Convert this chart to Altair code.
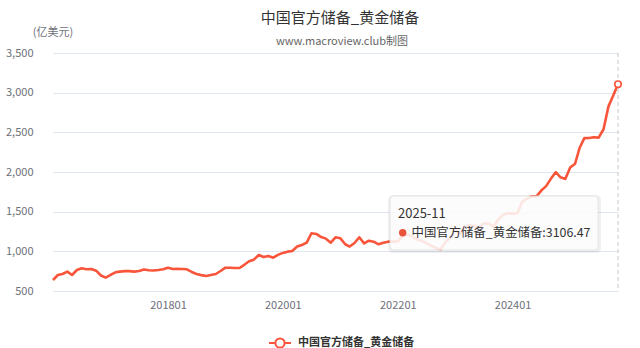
import altair as alt
import pandas as pd

# ---------------- data ----------------
title_text = "中国官方储备_黄金储备"
subtitle_text = "www.macroview.club制图"
unit_text = "(亿美元)"
series_name = "中国官方储备_黄金储备"

start_year, start_month = 2016, 1

values_2016 = [639, 702, 714, 744, 702, 765, 786, 774, 777, 756, 695, 668]
values_2017 = [702, 736, 744, 750, 750, 744, 752, 770, 762, 758, 765, 775]
values_2018 = [794, 777, 780, 778, 774, 740, 715, 700, 690, 702, 714, 752]
values_2019 = [794, 794, 790, 790, 830, 875, 895, 954, 929, 941, 920, 955]
values_2020 = [980, 996, 1004, 1060, 1080, 1109, 1228, 1219, 1180, 1160, 1109, 1177]
values_2021 = [1164, 1089, 1060, 1105, 1177, 1100, 1134, 1122, 1089, 1109, 1122, 1122]
values_2022 = [1126, 1196, 1213, 1188, 1151, 1132, 1106, 1072, 1040, 1027, 1117, 1172]
values_2023 = [1271, 1212, 1309, 1329, 1320, 1304, 1350, 1351, 1309, 1399, 1459, 1482]
values_2024 = [1472, 1484, 1622, 1664, 1694, 1693, 1766, 1822, 1917, 1998, 1933, 1913]
values_2025 = [2056, 2104, 2299, 2427, 2429, 2439, 2433, 2539, 2824, 2960, 3106.47]

values = (values_2016 + values_2017 + values_2018 + values_2019 + values_2020
          + values_2021 + values_2022 + values_2023 + values_2024 + values_2025)

months = []
y, m = start_year, start_month
for _ in values:
    months.append(f"{y}-{m:02d}")
    m += 1
    if m > 12:
        m = 1
        y += 1

x_tick_labels = ["201801", "202001", "202201", "202401"]
y_ticks = [500, 1000, 1500, 2000, 2500, 3000, 3500]

# ---------------- style ----------------
FONT = "Noto Sans CJK SC"
LINE_COLOR = "#f9553a"
GRID = "#e0e6f1"
W, H = 565, 238

df = pd.DataFrame({
    "date": [f"{mm}-01T00:00:00" for mm in months],
    "month": months,
    "value": values,
    "series": series_name,
})
last = df.tail(1)


def dt(ym):
    return alt.DateTime(year=int(ym[:4]), month=int(ym[-2:]), date=1)


x_enc = alt.X(
    "date:T",
    scale=alt.Scale(domain=[dt(months[0]), dt(months[-1])], nice=False),
    axis=alt.Axis(
        values=[dt(s) for s in x_tick_labels],
        tickCount=len(x_tick_labels) + 2,
        format="%Y%m",
        title=None,
        grid=False,
        ticks=False,
        tickSize=0,
        domain=True,
        domainColor=GRID,
        labelFont=FONT,
        labelFontSize=11,
        labelColor="#6e7079",
        labelPadding=8,
        labelOverlap=False,
    ),
)
y_enc = alt.Y(
    "value:Q",
    scale=alt.Scale(domain=[y_ticks[0], y_ticks[-1]], nice=False),
    axis=alt.Axis(
        values=y_ticks,
        tickCount=len(y_ticks) + 2,
        format=",d",
        title=None,
        grid=True,
        gridColor=GRID,
        domain=False,
        ticks=False,
        tickSize=0,
        labelFont=FONT,
        labelFontSize=11,
        labelColor="#6e7079",
        labelPadding=20,
        labelOverlap=False,
    ),
)

legend_symbol = ("M-1,0L-0.42,0M0.42,0L1,0"
                 "M0.42,0A0.42,0.42 0 1 1 -0.42,0A0.42,0.42 0 1 1 0.42,0Z")

line = alt.Chart(df).mark_line(strokeWidth=2.6, strokeJoin="round").encode(
    x=x_enc,
    y=y_enc,
    color=alt.Color(
        "series:N",
        scale=alt.Scale(range=[LINE_COLOR]),
        legend=alt.Legend(
            title=None,
            orient="none",
            legendX=215,
            legendY=278,
            padding=0,
            symbolType=legend_symbol,
            symbolSize=484,
            symbolStrokeWidth=2,
            symbolFillColor="white",
            symbolStrokeColor=LINE_COLOR,
            labelFont=FONT,
            labelFontSize=11,
            labelFontWeight="bold",
            labelColor="#333333",
            labelOffset=6,
        ),
    ),
)

rule = alt.Chart(last).mark_rule(color="#c8c8c8", strokeDash=[4, 3], strokeWidth=1).encode(
    x="date:T", y=alt.value(0), y2=alt.value(H)
)

end_point = alt.Chart(last).mark_point(
    shape="circle", filled=True, fill="white", stroke=LINE_COLOR,
    strokeWidth=1.6, size=42, opacity=1
).encode(x="date:T", y="value:Q")

one = pd.DataFrame({"k": [0]})

# titles
title_mark = alt.Chart(one).mark_text(
    text=title_text, font=FONT, fontSize=15, color="#333333", baseline="middle", align="center"
).encode(x=alt.value(287), y=alt.value(-35))
subtitle_mark = alt.Chart(one).mark_text(
    text=subtitle_text, font=FONT, fontSize=11, color="#666666", baseline="middle", align="center"
).encode(x=alt.value(289), y=alt.value(-11))
unit_mark = alt.Chart(one).mark_text(
    text=unit_text, font=FONT, fontSize=11, color="#6e7079", baseline="middle", align="center"
).encode(x=alt.value(0), y=alt.value(-20))

# tooltip box
tip_shadow = alt.Chart(one).mark_rect(
    fill="#000000", opacity=0.06, cornerRadius=5
).encode(x=alt.value(335), x2=alt.value(548), y=alt.value(142), y2=alt.value(200))
tip_box = alt.Chart(one).mark_rect(
    fill="white", opacity=0.86, stroke="#e4e4e4", strokeWidth=1, cornerRadius=4
).encode(x=alt.value(337), x2=alt.value(545), y=alt.value(143), y2=alt.value(197))
tip_date = alt.Chart(last).mark_text(
    font=FONT, fontSize=13, color="#333333", align="left", baseline="alphabetic"
).encode(x=alt.value(345), y=alt.value(165), text="month:N")
tip_dot = alt.Chart(last).mark_point(
    shape="circle", filled=True, fill="#e8553a", stroke=None, size=55, opacity=1
).encode(x=alt.value(349.7), y=alt.value(179.7))
tip_text = alt.Chart(last).transform_calculate(
    label="datum.series + ':' + format(datum.value, '.2f')"
).mark_text(
    font=FONT, fontSize=12.4, color="#333333", align="left", baseline="middle"
).encode(x=alt.value(358.5), y=alt.value(180), text="label:N")

chart = alt.layer(
    line, rule, end_point,
    title_mark, subtitle_mark, unit_mark,
    tip_shadow, tip_box, tip_date, tip_dot, tip_text,
).properties(
    width=W,
    height=H,
    padding={"left": 53, "top": 53, "right": 22, "bottom": 57},
    autosize=alt.AutoSizeParams(type="none"),
    background="white",
).configure_view(stroke=None)

chart.save("out.html", embed_options={"renderer": "svg", "actions": False})
